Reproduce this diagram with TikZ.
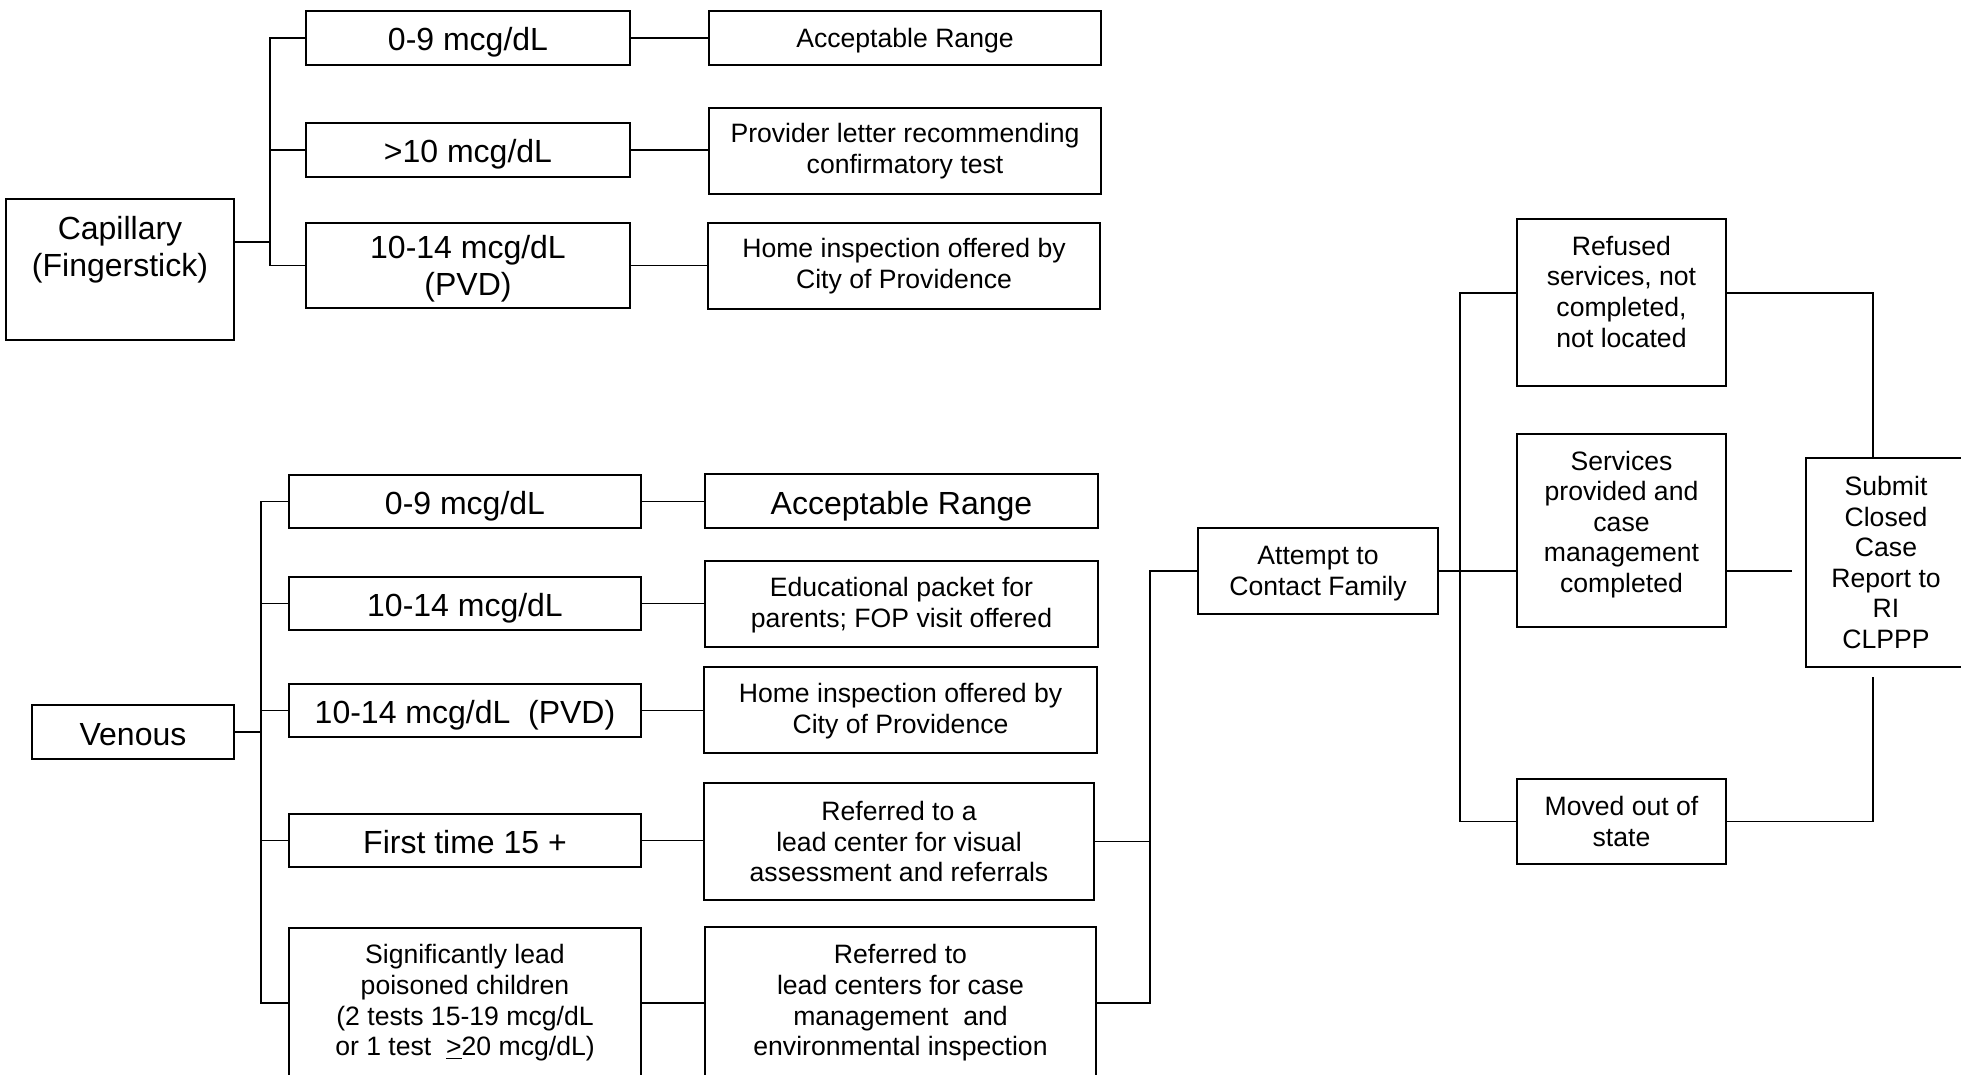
\documentclass[tikz,border=0pt]{standalone}
\usepackage{fontspec}
\setmainfont{Liberation Sans}
\usetikzlibrary{positioning,calc}
\newcommand{\boxbig}{\fontsize{16}{18.5}\selectfont}
\newcommand{\boxsmall}{\fontsize{13.3}{15.3}\selectfont}
\tikzset{
  rectnode/.style args={#1,#2}{
  draw=black,
  line width=0.9pt,
  align=center,
  inner sep=2pt,
  minimum width=#1*0.5pt,
  minimum height=#2*0.5pt,
  },
  bigbox/.style args={#1,#2}{rectnode={#1,#2},font=\boxbig,text height=13pt,text depth=0pt},
  smallbox/.style args={#1,#2}{rectnode={#1,#2},font=\boxsmall},
  link/.style={draw=black,line width=0.9pt}
}
\begin{document}
\begin{tikzpicture}[x=0.5pt,y=-0.5pt]
  \useasboundingbox (0,0) rectangle (1961,1075);

  % capillary
  \node[rectnode={228,141}] (cap) at (120,269.5) {};
  \node[font=\boxbig,align=center] (captxt) at ($(cap.north)+(0,52)$) {Capillary\\(Fingerstick)};
  \node[bigbox={324,54}] (capA) at (468,38) {0-9 mcg/dL};
  \node[bigbox={324,54}] (capB) at (468,150) {>10 mcg/dL};
  \node[rectnode={324,85},font=\boxbig,text depth=-6pt] (capC) at (468,265.5) {10-14 mcg/dL\\(PVD)};
  \node[smallbox={392,54},text height=10pt,text depth=0pt] (capAr) at (905,38) {Acceptable Range};
  \node[smallbox={392,86}] (capBr) at (905,151) {Provider letter recommending\\confirmatory test};
  \node[smallbox={392,86}] (capCr) at (904,266) {Home inspection offered by\\City of Providence};

  \coordinate (capj) at (270,242);
  \draw[link] (capj -| cap.east) -- (capj);
  \draw[link] (capA.west) -| (capj) |- (capC.west);
  \draw[link] (capB.west) -- (capB.west -| capj);
  \foreach \src/\dst in {capA/capAr,capB/capBr,capC/capCr}
    \draw[link] (\src.east) -- (\src.east -| \dst.west);

  % venous
  \node[bigbox={202,54}] (ven) at (133,732) {Venous};
  \node[bigbox={352,53}] (venA) at (465,501.5) {0-9 mcg/dL};
  \node[bigbox={352,53}] (venB) at (465,603.5) {10-14 mcg/dL};
  \node[bigbox={352,53}] (venC) at (465,710.5) {10-14 mcg/dL\ \ (PVD)};
  \node[bigbox={352,53}] (venD) at (465,840.5) {First time 15 +};
  \node[smallbox={352,150}] (venE) at (465,1003) {Significantly lead\\poisoned children\\(2 tests 15-19 mcg/dL\\or 1 test\ \ \underline{>}20 mcg/dL)};
  \node[bigbox={393,54}] (venAr) at (901.5,501) {Acceptable Range};
  \node[smallbox={393,86},text depth=1.5pt] (venBr) at (901.5,604) {Educational packet for\\parents; FOP visit offered};
  \node[smallbox={393,86},text depth=1.5pt] (venCr) at (900.5,710) {Home inspection offered by\\City of Providence};
  \node[smallbox={390,117}] (venDr) at (899,841.5) {Referred to a\\lead center for visual\\assessment and referrals};
  \node[smallbox={391,152}] (venEr) at (900.5,1003) {Referred to\\lead centers for case\\management\ \ and\\environmental inspection};

  \coordinate (venj) at (261,732);
  \draw[link] (ven.east) -- (venj);
  \draw[link] (venA.west) -| (venj) |- (venE.west);
  \foreach \n in {venB,venC,venD}
    \draw[link] (\n.west) -- (\n.west -| venj);
  \foreach \src/\dst in {venA/venAr,venB/venBr,venC/venCr,venD/venDr,venE/venEr}
    \draw[link] (\src.east) -- (\src.east -| \dst.west);

  % follow-up
  \node[smallbox={240,86},text depth=0.3pt] (att) at (1318,571) {Attempt to\\Contact Family};
  \coordinate (attj) at (1150,571);
  \draw[link] (venDr.east) -- (venDr.east -| attj);
  \draw[link] (venEr.east) -| (attj) -- (att.west);

  \node[smallbox={209,167},text depth=11pt] (ref) at (1621.5,302.5) {Refused\\services, not\\completed,\\not located};
  \node[smallbox={209,193},text depth=8.8pt] (srv) at (1621.5,530.5) {Services\\provided and\\case\\management\\completed};
  \node[smallbox={209,85}] (mov) at (1621.5,821.5) {Moved out of\\state};
  \node[smallbox={160,209}] (sub) at (1886,562.5) {Submit\\Closed\\Case\\Report to\\RI\\CLPPP};

  \coordinate (refj) at (1460,293);
  \coordinate (subtop) at (1873,293);
  \coordinate (subbot) at (1873,677);
  \coordinate (srvend) at (1792,571);
  \draw[link] (att.east) -- (att.east -| srv.west);
  \draw[link] (refj -| ref.west) -- (refj) |- (mov.west);
  \draw[link] (subtop -| ref.east) -- (subtop) -- (subtop |- sub.north);
  \draw[link] (mov.east) -| (subbot);
  \draw[link] (srvend -| srv.east) -- (srvend);

\end{tikzpicture}
\end{document}
